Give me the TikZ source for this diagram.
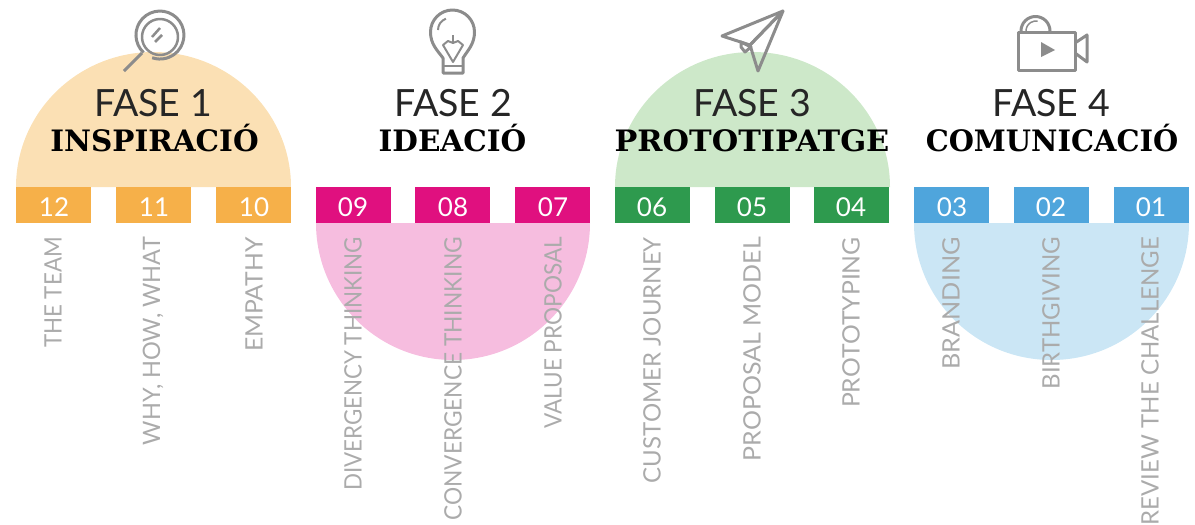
\documentclass[tikz,border=0pt]{standalone}
\usepackage{fontspec}
\setmainfont{Lato}
\newfontfamily\slabfont{DejaVu Serif}
\definecolor{orangeD}{HTML}{F6B049}
\definecolor{orangeL}{HTML}{FBE0B4}
\definecolor{pinkD}{HTML}{E0107F}
\definecolor{pinkL}{HTML}{F6BDDF}
\definecolor{greenD}{HTML}{2E9A4E}
\definecolor{greenL}{HTML}{CDE8C9}
\definecolor{blueD}{HTML}{4FA5DC}
\definecolor{blueL}{HTML}{CBE6F5}
\definecolor{iconG}{HTML}{8C8C8C}
\definecolor{labelG}{HTML}{ABABAB}
\tikzset{
  num/.style={inner sep=0pt,anchor=base,text=white,font=\fontsize{26}{26}\selectfont},
  fase/.style={inner sep=0pt,anchor=base,text=black!85,font=\fontsize{37.5}{37.5}\selectfont},
  titol/.style={inner sep=0pt,anchor=base,text=black,font=\slabfont\bfseries\fontsize{29.5}{29.5}\selectfont},
  sess/.style={inner sep=0pt,rotate=90,anchor=east,text=labelG,font=\fontsize{24}{24}\selectfont},
  icon/.style={draw=iconG,line width=3pt,line join=round}
}
\begin{document}
\begin{tikzpicture}[x=1pt,y=-1pt]
\useasboundingbox (0,0) rectangle (1195,525);
% half discs
\fill [orangeL] (16,187) arc (180:360:137.5 and 135) -- cycle;
\fill [pinkL] (316,223) arc (180:0:137 and 137) -- cycle;
\fill [greenL] (615,187) arc (180:360:137.5 and 135) -- cycle;
\fill [blueL] (914,223) arc (180:0:137.5 and 137) -- cycle;
% number boxes
\fill [orangeD] (16,187) rectangle (91,223);
\fill [orangeD] (116,187) rectangle (191,223);
\fill [orangeD] (216,187) rectangle (291,223);
\fill [pinkD] (316,187) rectangle (391,223);
\fill [pinkD] (415,187) rectangle (490,223);
\fill [pinkD] (515,187) rectangle (590,223);
\fill [greenD] (615,187) rectangle (690,223);
\fill [greenD] (715,187) rectangle (790,223);
\fill [greenD] (814,187) rectangle (889,223);
\fill [blueD] (914,187) rectangle (989,223);
\fill [blueD] (1014,187) rectangle (1089,223);
\fill [blueD] (1114,187) rectangle (1189,223);
\node [num] (n12) at (54,216) {12};
\node [num] (n11) at (154,216) {11};
\node [num] (n10) at (254,216) {10};
\node [num] (n09) at (353,216) {09};
\node [num] (n08) at (453,216) {08};
\node [num] (n07) at (553,216) {07};
\node [num] (n06) at (652,216) {06};
\node [num] (n05) at (752,216) {05};
\node [num] (n04) at (851,216) {04};
\node [num] (n03) at (952,216) {03};
\node [num] (n02) at (1051,216) {02};
\node [num] (n01) at (1151,216) {01};
% titles
\node [fase] (f1) at (153,116) {FASE 1};
\node [titol] (t1) at (154.5,151) {INSPIRACIÓ};
\node [fase] (f2) at (453,116) {FASE 2};
\node [titol] (t2) at (452.5,151) {IDEACIÓ};
\node [fase] (f3) at (752,116) {FASE 3};
\node [titol] (t3) at (752,151) {\scalebox{1.03}[1]{PROTOTIPATGE}};
\node [fase] (f4) at (1051,116) {FASE 4};
\node [titol] (t4) at (1052,151) {\scalebox{.98}[1]{COMUNICACIÓ}};
% sessions
\node [sess] (s12) at (53,237) {\scalebox{.93}[1]{THE TEAM}};
\node [sess] (s11) at (153,237) {\scalebox{.98}[1]{WHY, HOW, WHAT}};
\node [sess] (s10) at (254,237) {\scalebox{1.03}[1]{EMPATHY}};
\node [sess] (s09) at (353,237) {\scalebox{.93}[1]{DIVERGENCY THINKING}};
\node [sess] (s08) at (453,237) {\scalebox{.945}[1]{CONVERGENCE THINKING}};
\node [sess] (s07) at (553,237) {\scalebox{.94}[1]{VALUE PROPOSAL}};
\node [sess] (s06) at (652,237) {CUSTOMER JOURNEY};
\node [sess] (s05) at (752,237) {\scalebox{1.04}[1]{PROPOSAL MODEL}};
\node [sess] (s04) at (851,237) {\scalebox{1.03}[1]{PROTOTYPING}};
\node [sess] (s03) at (951,237) {\scalebox{1.05}[1]{BRANDING}};
\node [sess] (s02) at (1051,237) {BIRTHGIVING};
\node [sess] (s01) at (1150,237) {REVIEW THE CHALLENGE};
% magnifier
\draw [icon] (143.6,52.6) arc (133:469:24);
\draw [icon,line width=2.5pt] (160,37) circle (18);
\draw [icon] (124,71) -- (142,53);
\draw [icon,line width=2.5pt] (152,37) -- (160,28);
\draw [icon,line width=2.5pt] (155,42) -- (162,35);
% bulb
\draw [icon] (443,58) .. controls (437,50) and (430.5,44) .. (430.5,32) arc (180:360:22) .. controls (474.5,44) and (468,50) .. (463,58) -- (463,73) -- (443,73) -- cycle;
\draw [icon,line width=2pt] (438,30) arc (180:250:12);
\draw [icon,line width=2pt] (443,45) -- (453,62) -- (463,45) -- (458,41) -- (453,43) -- (448,41) -- cycle;
\draw [icon,line width=2pt] (453,35) -- (453,43);
\draw [icon,line width=2pt] (443,66) -- (463,66);
% paper plane
\draw [icon] (783,11) -- (722,36) -- (750,45) -- cycle;
\draw [icon] (783,11) -- (750,45) -- (758,71) -- cycle;
\draw [icon] (741,42) -- (751,47) -- (745,52) -- (741,47) -- cycle;
% camera
\draw [icon] (1018,32) rectangle (1075,70);
\draw [icon] (1075,43) -- (1087,35) -- (1087,62) -- (1075,53);
\fill [iconG] (1041,42) -- (1055,50) -- (1041,57) -- cycle;
\draw [icon] (1021,31) arc (180:360:14.5);
\draw [icon,line width=1.5pt] (1026,31) arc (180:280:10);
\end{tikzpicture}
\end{document}
